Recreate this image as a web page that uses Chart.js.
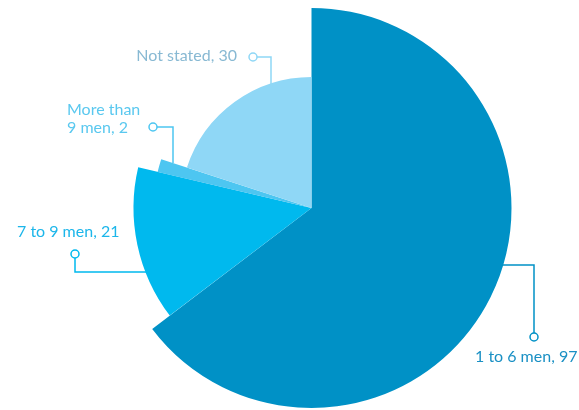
<!DOCTYPE html>
<html>
<head>
<meta charset="utf-8">
<script src="https://cdn.jsdelivr.net/npm/chart.js@4.4.0/dist/chart.umd.min.js"></script>
<style>
  html, body { margin: 0; padding: 0; background: #fff; }
  #wrap { width: 579px; height: 410px; }
</style>
</head>
<body>
<div id="wrap"><canvas id="chart-1"></canvas></div>
<script>
var categories = ["1 to 6 men", "7 to 9 men", "More than 9 men", "Not stated"];
var values = [97, 21, 2, 30];
var labelLines = [["1 to 6 men, 97"], ["7 to 9 men, 21"], ["More than", "9 men, 2"], ["Not stated, 30"]];

var sliceColors = ["#0091C6", "#00B9EE", "#4DC6F1", "#8FD7F6"];
var textColors = ["#1A90C4", "#1CB6EA", "#5AC8EF", "#88B9D3"];
// each slice gets its own outer radius (fraction of the full radius)
var radiusScale = [1, 0.89, 0.79, 0.655];

// leader lines: dot position, text block, and direction to walk to the slice
var callouts = [
    { dot: [534, 337], elbow: [534, 265], dir: [-1, 0], text: [475, 357], align: "left" },
    { dot: [75, 254], elbow: [75, 272], dir: [1, 0], text: [17, 232], align: "left" },
    { dot: [153, 127], elbow: [173, 127], dir: [0, 1], text: [67, 110], align: "left" },
    { dot: [253, 57], elbow: [271, 57], dir: [0, 1], text: [237, 56], align: "right" }
];

var radiusPlugin = {
    id: "radiusPlugin",
    afterDatasetsUpdate: function (chart) {
        var meta = chart.getDatasetMeta(0);
        meta.data.forEach(function (arc, i) {
            arc.outerRadius = arc.outerRadius * radiusScale[i];
        });
    }
};

var calloutPlugin = {
    id: "calloutPlugin",
    afterDraw: function (chart) {
        var ctx = chart.ctx;
        var meta = chart.getDatasetMeta(0);
        ctx.save();
        callouts.forEach(function (c, i) {
            var arc = meta.data[i];
            // walk from the elbow until we hit the slice
            var x = c.elbow[0], y = c.elbow[1];
            for (var s = 0; s < 400; s++) {
                if (arc.inRange(x, y)) break;
                x += c.dir[0]; y += c.dir[1];
            }
            ctx.strokeStyle = sliceColors[i];
            ctx.lineWidth = 1.5;
            ctx.beginPath();
            var dx = c.elbow[0] - c.dot[0], dy = c.elbow[1] - c.dot[1];
            var len = Math.sqrt(dx * dx + dy * dy);
            ctx.moveTo(c.dot[0] + dx / len * 4, c.dot[1] + dy / len * 4);
            ctx.lineTo(c.elbow[0], c.elbow[1]);
            ctx.lineTo(x, y);
            ctx.stroke();
            ctx.beginPath();
            ctx.arc(c.dot[0], c.dot[1], 4, 0, Math.PI * 2);
            ctx.fillStyle = "#fff";
            ctx.fill();
            ctx.stroke();

            ctx.fillStyle = textColors[i];
            ctx.font = "16px Lato";
            ctx.textAlign = c.align;
            ctx.textBaseline = "middle";
            labelLines[i].forEach(function (line, k) {
                ctx.fillText(line, c.text[0], c.text[1] + k * 18);
            });
        });
        ctx.restore();
    }
};

new Chart("chart-1", {
    type: "pie",
    data: {
        labels: categories,
        datasets: [{
            backgroundColor: sliceColors,
            borderWidth: 0,
            data: values
        }]
    },
    options: {
        responsive: true,
        maintainAspectRatio: false,
        animation: false,
        layout: { padding: { left: 44, right: 0, top: 8, bottom: 2 } },
        plugins: {
            legend: { display: false },
            tooltip: { enabled: false }
        }
    },
    plugins: [radiusPlugin, calloutPlugin]
});
</script>
</body>
</html>
